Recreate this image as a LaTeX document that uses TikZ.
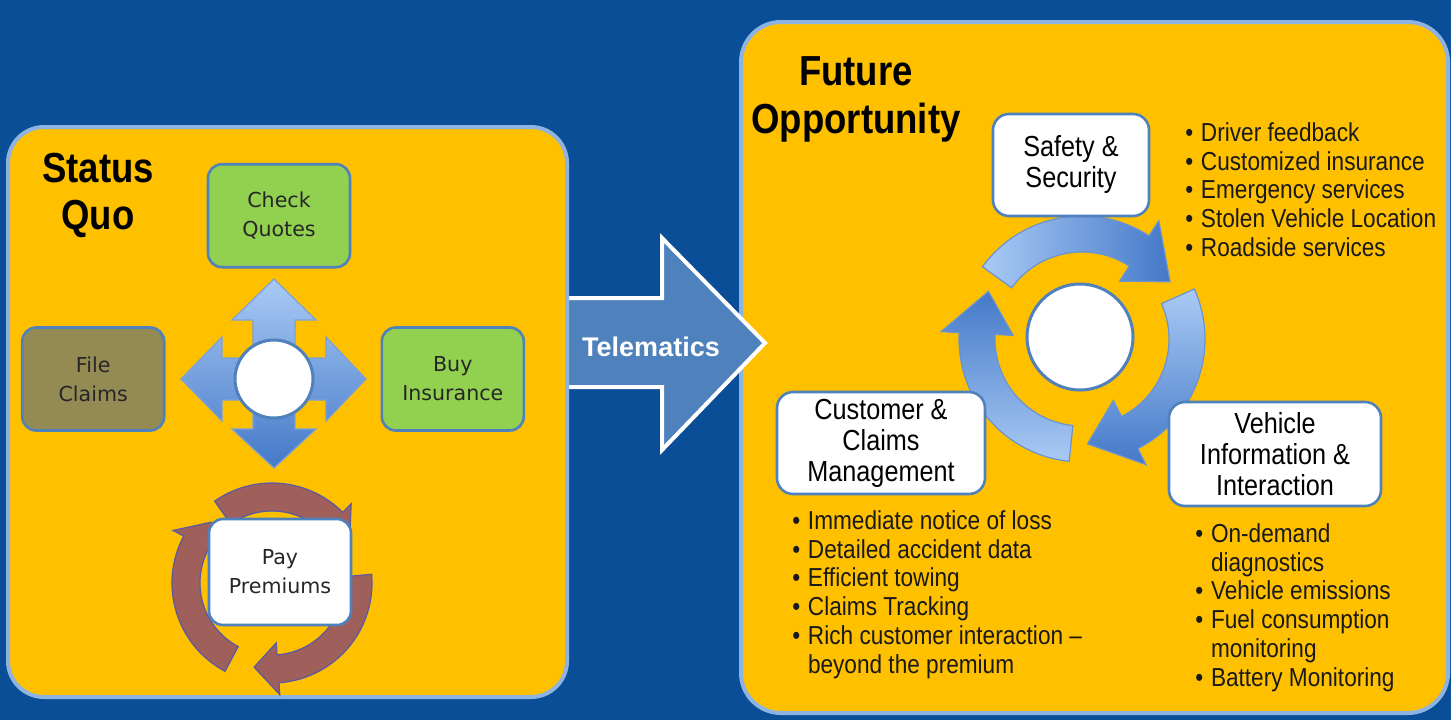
\documentclass[tikz,border=0pt]{standalone}
\usepackage{fontspec}
\setmainfont{Liberation Sans}
\newfontfamily\condfont[FakeStretch=0.87]{Liberation Sans}
\newfontfamily\tahfont{DejaVu Sans}
\usetikzlibrary{positioning}

\definecolor{deepblue}{HTML}{0A4E98}
\definecolor{amber}{HTML}{FFC000}
\definecolor{paleblue}{HTML}{8DB3E2}
\definecolor{edgeblue}{HTML}{4F81BD}
\definecolor{leafgreen}{HTML}{92D050}
\definecolor{olive}{HTML}{948A54}
\definecolor{rust}{HTML}{9F5F5A}
\definecolor{skyA}{HTML}{A9CAF4}
\definecolor{skyB}{HTML}{4479C8}

% curved cycle arrow: style, centre, start, neck, tip, inner r, outer r, flare
\newcommand{\ringarrow}[8]{%
  \path[#1, shift={#2}] (#3:#7) arc[start angle=#3, end angle=#4, radius=#7]
    -- (#4:{#7+#8}) -- (#5:{(#6+#7)/2}) -- (#4:{#6-#8}) -- (#4:#6)
    arc[start angle=#4, end angle=#3, radius=#6] -- cycle;}
\newcommand{\itm}[1]{\makebox[7.8pt][l]{\textbullet}#1}
\newcommand{\cnt}[1]{\hspace*{7.8pt}#1}

\begin{document}
\begin{tikzpicture}[x=0.5pt, y=0.5pt,
  panel/.style={fill=amber, draw=paleblue, line width=2pt, rounded corners=18pt},
  stepcard/.style={draw=edgeblue, line width=1.3pt, rounded corners=7pt, align=center,
    font=\tahfont\fontsize{10.3}{14.5}\selectfont, text=black!85,
    minimum width=71pt, minimum height=51.5pt, inner sep=0pt},
  opcard/.style={draw=edgeblue, fill=white, line width=1.3pt, rounded corners=8pt,
    align=center, font=\condfont\fontsize{14.5}{15.5}\selectfont, inner sep=0pt},
  hub/.style={circle, draw=edgeblue, fill=white, line width=1.5pt, inner sep=0pt},
  heading/.style={align=center, font=\condfont\bfseries\fontsize{21}{23.5}\selectfont},
  bullets/.style={align=left, anchor=north west, inner sep=0pt, text=black!90,
    font=\condfont\fontsize{13}{14.4}\selectfont},
  ringblue/.style={draw=skyB!80, line width=0.6pt},
  ringrust/.style={fill=rust, draw=gray!70!blue, line width=0.6pt},
  fourway/.style={top color=skyA, bottom color=skyB, draw=skyB!70, line width=0.6pt}]

\useasboundingbox (0,0) rectangle (1451,720);
\fill[deepblue] (0,0) rectangle (1451,720);

% future side
\draw[panel, rounded corners=20pt] (741,7) rectangle (1448,698);
\node[heading] (futuretitle) at (856,621) {Future\\[0.5pt]Opportunity};

\ringarrow{ringblue, left color=skyA, right color=skyB}{(1082,381)}{144}{57}{33}{87}{123}{18}
\ringarrow{ringblue, top color=skyA, bottom color=skyB}{(1082,381)}{24}{-63}{-87}{87}{123}{18}
\ringarrow{ringblue, bottom color=skyA, top color=skyB}{(1082,381)}{-96}{-183}{-207}{87}{123}{18}
\node[hub, minimum size=53pt] (rhub) at (1080,383) {};

\node[opcard, minimum width=78pt, minimum height=51pt] (safety) at (1071,555) {Safety \&\\Security};
\node[opcard, minimum width=104pt, minimum height=51pt] (customer) at (881,277) {Customer \&\\Claims\\Management};
\node[opcard, minimum width=106pt, minimum height=52pt] (vehicle) at (1275,266) {Vehicle\\Information \&\\Interaction};

\node[bullets] (safetylist) at (1185,598) {\itm{Driver feedback}\\\itm{Customized insurance}\\
  \itm{Emergency services}\\\itm{Stolen Vehicle Location}\\\itm{Roadside services}};
\node[bullets] (customerlist) at (792,210) {\itm{Immediate notice of loss}\\\itm{Detailed accident data}\\
  \itm{Efficient towing}\\\itm{Claims Tracking}\\\itm{Rich customer interaction –}\\\cnt{beyond the premium}};
\node[bullets] (vehiclelist) at (1195,197) {\itm{On-demand}\\\cnt{diagnostics}\\\itm{Vehicle emissions}\\
  \itm{Fuel consumption}\\\cnt{monitoring}\\\itm{Battery Monitoring}};

% telematics arrow
\draw[fill=edgeblue, draw=white, line width=2pt, line join=miter]
  (560,422) -- (662,422) -- (662,482) -- (765,377) -- (662,270) -- (662,333) -- (560,333);
\node[text=white, font=\bfseries\fontsize{13.5}{16}\selectfont] (telematics) at (651,373) {Telematics};

% status quo side
\draw[panel] (8,23) rectangle (567,593);
\node[heading] (statustitle) at (98,525) {Status\\Quo};

\path[fourway, shift={(274,341)}] (21,21) -- (21,59) -- (42,59) -- (0,100) -- (-42,59) -- (-21,59)
  -- (-21,21) -- (-52,21) -- (-52,42) -- (-93,0) -- (-52,-42) -- (-52,-21) -- (-21,-21)
  -- (-21,-50) -- (-42,-50) -- (0,-89) -- (42,-50) -- (21,-50) -- (21,-21) -- (52,-21)
  -- (52,-42) -- (92,0) -- (52,42) -- (52,21) -- cycle;
\node[hub, minimum size=39pt] (lhub) at (274,341) {};

\node[stepcard, fill=leafgreen, above=35pt of lhub, xshift=2.5pt] (quotes) {Check\\Quotes};
\node[stepcard, fill=olive, left=34pt of lhub] (claims) {File\\Claims};
\node[stepcard, fill=leafgreen, right=33pt of lhub] (buy) {Buy\\Insurance};

\ringarrow{ringrust}{(272,137)}{125}{45}{26}{72}{100}{12}
\ringarrow{ringrust}{(272,137)}{5}{-86}{-102}{72}{100}{12}
\ringarrow{ringrust}{(272,137)}{-118}{-208}{-225}{72}{100}{12}
\node[stepcard, fill=white, minimum height=53pt] (pay) at (280,148) {Pay\\Premiums};
\end{tikzpicture}
\end{document}
